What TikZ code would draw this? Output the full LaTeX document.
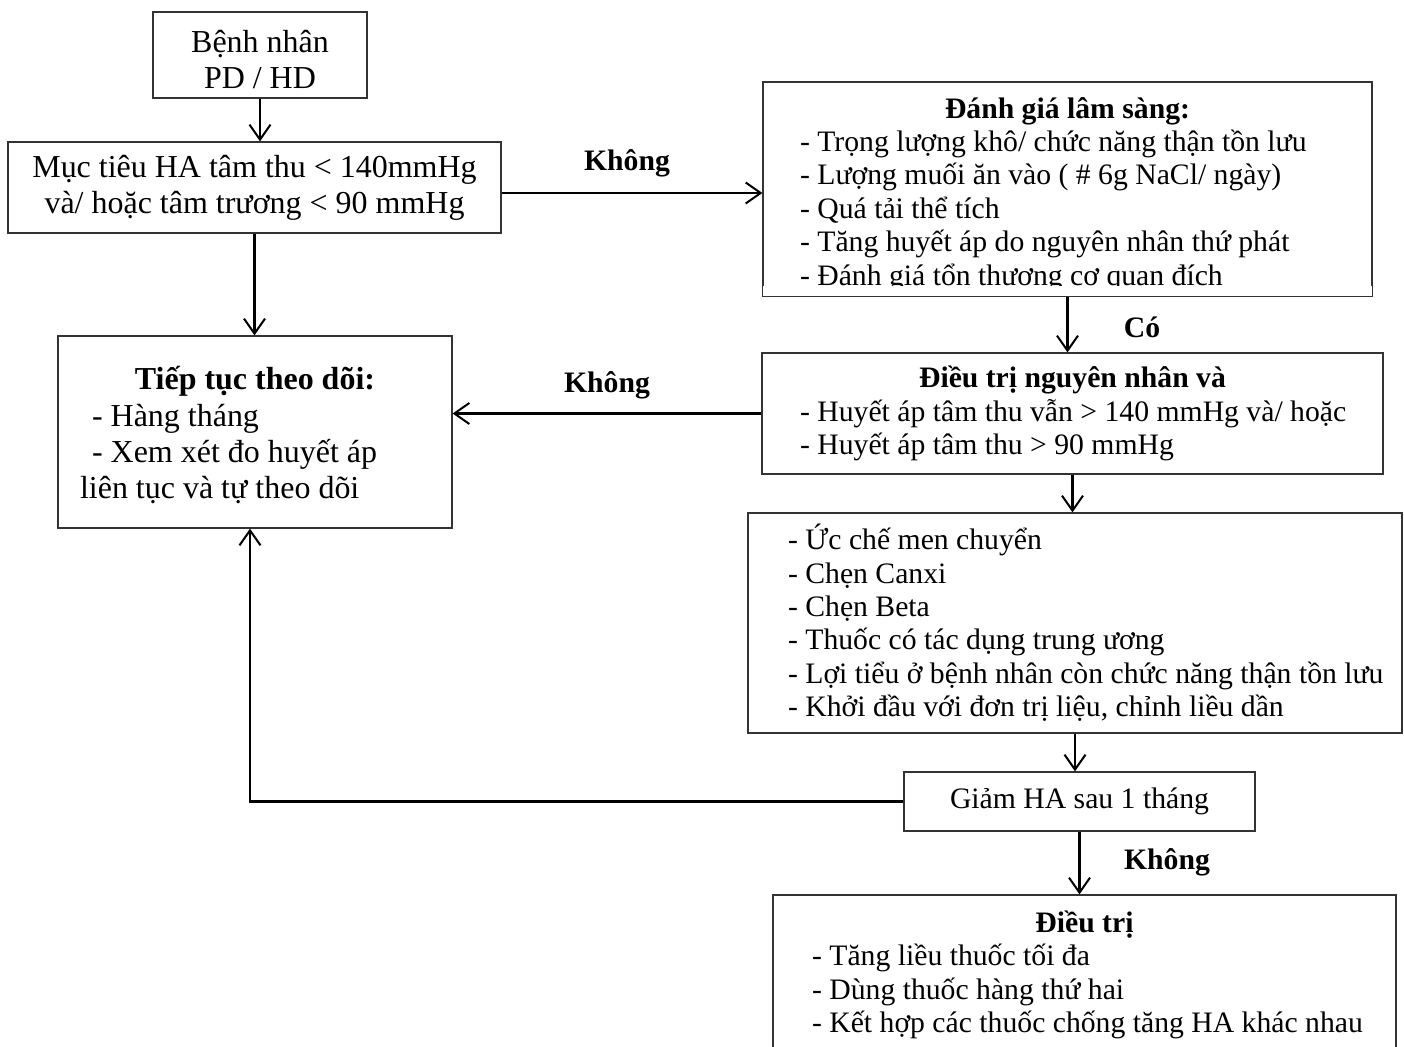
\documentclass[tikz,border=0pt]{standalone}
\usepackage{fontspec}
\setmainfont{Liberation Serif}
\usetikzlibrary{arrows.meta}
\newcommand{\txtbig}{\fontsize{18.2}{20.6}\selectfont}
\newcommand{\txtsmall}{\fontsize{16.9}{19}\selectfont}

\begin{document}
\begin{tikzpicture}[x=0.02cm, y=-0.02cm,
  frame/.style={draw=black!80, line width=0.7pt},
  box/.style={frame, rectangle, inner ysep=2pt},
  arr/.style={line width=1.15pt, -{Straight Barb[length=0.3cm, width=0.42cm]}},
  lbl/.style={font=\txtsmall\bfseries},
]
\useasboundingbox (0,0) rectangle (1404,1047);

% left column
\node[box, font=\txtbig, align=center, minimum width=4.28cm, minimum height=1.72cm]
  (patient) at (260,55) {\rule{0pt}{18pt}Bệnh nhân\\PD / HD};
\node[box, font=\txtbig, align=center, minimum width=9.86cm, minimum height=1.82cm]
  (target) at (254.5,187.5) {Mục tiêu HA tâm thu < 140mmHg\\và/ hoặc tâm trương < 90 mmHg};
\node[box, font=\txtbig, text width=7.0cm, align=flush left, inner xsep=0.44cm,
      minimum height=3.84cm] (monitor) at (255,432)
  {\makebox[\linewidth][c]{\rule{0pt}{17pt}\textbf{Tiếp tục theo dõi:}}\\
   \hspace*{0.24cm}- Hàng tháng\\
   \hspace*{0.24cm}- Xem xét đo huyết áp\\
   liên tục và tự theo dõi};

% right column
\begin{scope}
  \clip (700,60) rectangle (1404,286);
  \node[box, font=\txtsmall, text width=10.7cm, align=flush left, inner xsep=0.74cm,
        minimum height=4.28cm] (assess) at (1067.5,189)
    {\makebox[\linewidth][c]{\rule{0pt}{18pt}\textbf{Đánh giá lâm sàng:}}\\
     - Trọng lượng khô/ chức năng thận tồn lưu\\
     - Lượng muối ăn vào ( \# 6g NaCl/ ngày)\\
     - Quá tải thể tích\\
     - Tăng huyết áp do nguyên nhân thứ phát\\
     - Đánh giá tổn thương cơ quan đích};
\end{scope}
\draw[frame] (assess.north west) rectangle (assess.south east);

\node[box, font=\txtsmall, text width=10.9cm, align=flush left, inner xsep=0.76cm,
      minimum height=2.42cm] (cause) at (1072.5,413.5)
  {\makebox[\linewidth][c]{\textbf{Điều trị nguyên nhân và}}\\
   \mbox{- Huyết áp tâm thu vẫn > 140 mmHg và/ hoặc}\\
   - Huyết áp tâm thu > 90 mmHg};
\node[box, font=\txtsmall, text width=11.48cm, align=flush left, inner xsep=0.8cm,
      minimum height=4.4cm] (drugs) at (1075,623)
  {- Ức chế men chuyển\\
   - Chẹn Canxi\\
   - Chẹn Beta\\
   - Thuốc có tác dụng trung ương\\
   \mbox{- Lợi tiểu ở bệnh nhân còn chức năng thận tồn lưu}\\
   - Khởi đầu với đơn trị liệu, chỉnh liều dần};
\node[box, font=\txtsmall, minimum width=7.02cm, minimum height=1.18cm]
  (reduce) at (1079.5,801.5) {Giảm HA sau 1 tháng};
\node[box, font=\txtsmall, text width=10.9cm, align=flush left, inner xsep=0.78cm,
      minimum height=3.2cm] (treat) at (1084.5,975)
  {\makebox[\linewidth][c]{\textbf{Điều trị}}\\
   - Tăng liều thuốc tối đa\\
   - Dùng thuốc hàng thứ hai\\
   \mbox{- Kết hợp các thuốc chống tăng HA khác nhau}};

% connectors
\draw[arr] (patient.south) -- (patient.south |- target.north);
\draw[arr] ([yshift=-0.11cm]target.east) -- ([yshift=-0.11cm]target.east -| assess.west);
\draw[arr] (target.south) -- (target.south |- monitor.north);
\draw[arr] (assess.south) -- (assess.south |- cause.north);
\draw[arr] (cause.west) -- (cause.west -| monitor.east);
\draw[arr] (cause.south) -- (cause.south |- drugs.north);
\draw[arr] (drugs.south) -- (drugs.south |- reduce.north);
\draw[arr] (reduce.south) -- (reduce.south |- treat.north);
\draw[arr] (reduce.west) -| ([xshift=-0.1cm]monitor.south);

% answers
\node[lbl] (no1) at (627,163) {Không};
\node[lbl] (yes1) at (1142,327) {Có};
\node[lbl] (no2) at (607,385) {Không};
\node[lbl] (no3) at (1167,862) {Không};

\end{tikzpicture}
\end{document}
